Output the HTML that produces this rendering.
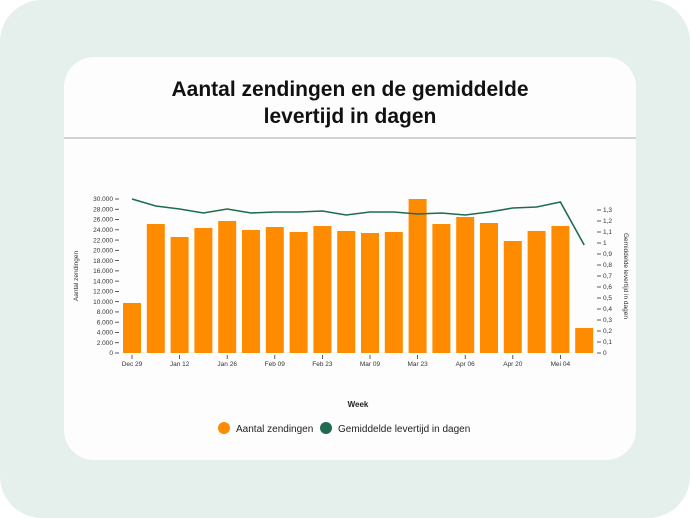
<!DOCTYPE html>
<html><head><meta charset="utf-8"><style>
html,body{margin:0;padding:0;background:#fff;}
body{width:690px;height:518px;position:relative;overflow:hidden;font-family:"Liberation Sans",sans-serif;}
.bg{position:absolute;left:0;top:0;width:690px;height:518px;background:#e5efeb;border-radius:42px;}
.card{position:absolute;left:64px;top:57px;width:572px;height:403px;background:#fdfdfd;border-radius:30px;}
.title{position:absolute;left:64px;top:76px;width:572px;text-align:center;font-weight:bold;font-size:21px;line-height:27px;color:#111;}
.div{position:absolute;left:64px;top:137px;width:572px;height:2px;background:#cfd3d1;}
</style></head><body>
<div class="bg"></div>
<div class="card"></div>
<div class="title">Aantal zendingen en de gemiddelde<br>levertijd in dagen</div>
<div class="div"></div>
<svg width="690" height="518" style="position:absolute;left:0;top:0" font-family="Liberation Sans, sans-serif">
<g id="ax"></g>
</svg>
<script>
const svg=document.querySelector('#ax');let h='';
// left axis
for(let v=0;v<=30000;v+=2000){const y=353-v*154/30000;
h+=`<line x1="115" x2="119" y1="${y}" y2="${y}" stroke="#333" stroke-width="0.8"/><text x="113" y="${y+2.2}" font-size="6.5" text-anchor="end" fill="#333">${v.toLocaleString('de-DE')}</text>`;}
for(let i=0;i<=13;i++){const v=i/10,y=353-v*110;
h+=`<line x1="597" x2="601" y1="${y}" y2="${y}" stroke="#333" stroke-width="0.8"/><text x="603" y="${y+2.2}" font-size="6.5" fill="#333">${i==0?'0':i==10?'1':v.toFixed(1).replace('.',',')}</text>`;}
const tops=[303,224,237,228,221,230,227,232,226,231,233,232,199,224,217,223,241,231,226,328];
const ly=[199,206,209,213,209,213,212,212,211,215,212,212,214,213,215,212,208,207,202,245];
let pts=[];
tops.forEach((t,i)=>{const x=123+23.8*i;h+=`<rect x="${x}" y="${t}" width="18" height="${353-t}" fill="#ff8c00"/>`;pts.push(`${x+9},${ly[i]}`);});
h+=`<polyline points="${pts.join(' ')}" fill="none" stroke="#1f6b52" stroke-width="1.6"/>`;
const lab=['Dec 29','Jan 12','Jan 26','Feb 09','Feb 23','Mar 09','Mar 23','Apr 06','Apr 20','Mei 04'];
lab.forEach((l,k)=>{const x=132+23.8*2*k;h+=`<line x1="${x}" x2="${x}" y1="355" y2="359" stroke="#333" stroke-width="0.8"/><text x="${x}" y="366" font-size="6.5" text-anchor="middle" fill="#333">${l}</text>`;});
h+=`<text transform="translate(78,276) rotate(-90)" font-size="6.5" text-anchor="middle" fill="#333">Aantal zendingen</text>`;
h+=`<text transform="translate(624,276) rotate(90)" font-size="6.5" text-anchor="middle" fill="#333">Gemiddelde levertijd in dagen</text>`;
h+=`<text x="358" y="407" font-size="8" font-weight="bold" text-anchor="middle" fill="#222">Week</text>`;
h+=`<circle cx="224" cy="428" r="6" fill="#ff8c00"/><text x="236" y="432" font-size="10" fill="#222">Aantal zendingen</text>`;
h+=`<circle cx="326" cy="428" r="6" fill="#1f6b52"/><text x="338" y="432" font-size="10" fill="#222">Gemiddelde levertijd in dagen</text>`;
svg.innerHTML=h;
</script>
</body></html>
